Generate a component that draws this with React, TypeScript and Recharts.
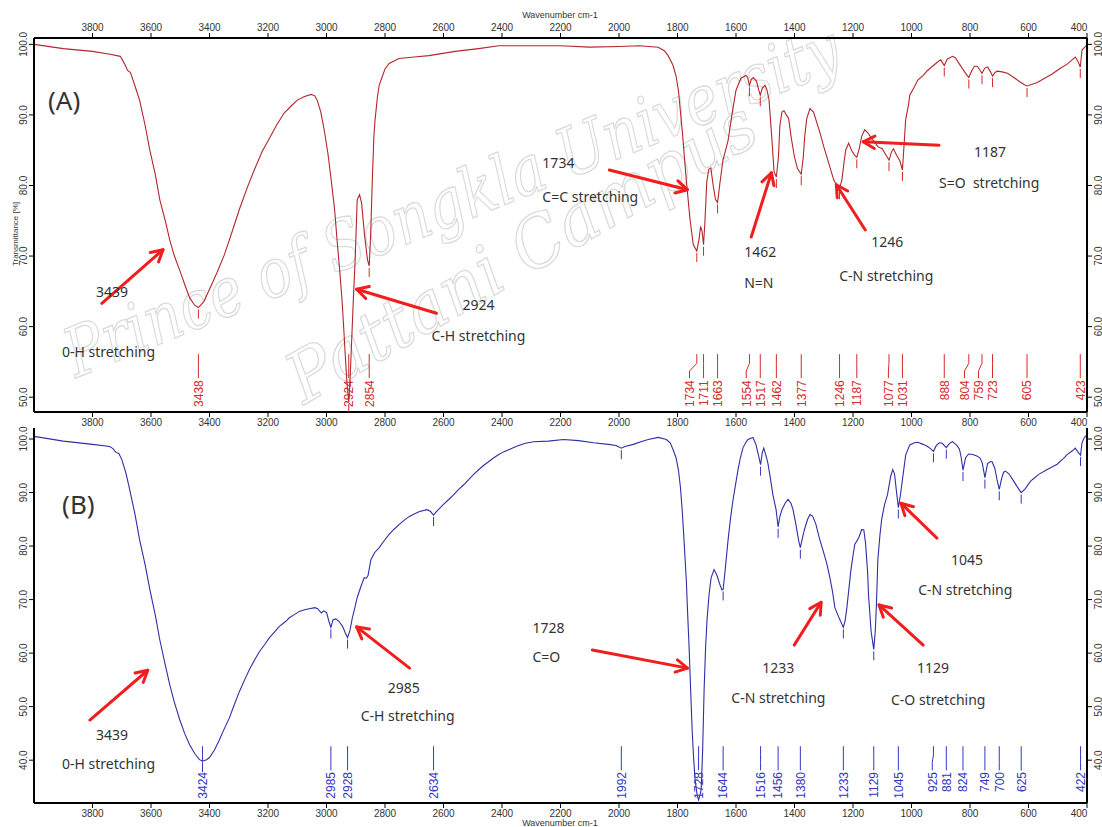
import React from "react";
import { ComposedChart, Line, Scatter, XAxis, YAxis, ReferenceLine } from "recharts";

// ---------- axis ticks ----------
const X_TICKS = [3800, 3600, 3400, 3200, 3000, 2800, 2600, 2400, 2200, 2000, 1800, 1600, 1400, 1200, 1000, 800, 600, 400];
const Y_TICKS_A = [50, 60, 70, 80, 90, 100];
const Y_TICKS_B = [40, 50, 60, 70, 80, 90, 100];

// ---------- spectrum (A) : [wavenumber, transmittance %] ----------
const SPECTRUM_A: [number, number][] = [
  [4000, 100], [3900, 99.4], [3800, 99.0], [3740, 98.6], [3705, 98.3], [3690, 97.2], [3680, 96.3], [3670, 96.0],
  [3650, 93.5], [3639, 92.1], [3620, 88.5], [3604, 85], [3585, 81.5], [3570, 78], [3550, 74.8], [3536, 72.3],
  [3520, 70.0], [3502, 68], [3485, 66], [3468, 64.1], [3450, 63.0], [3438, 62.7], [3420, 63.5], [3400, 65.3],
  [3375, 67.6], [3349, 70.2], [3320, 73.8], [3298, 76.6], [3270, 79.8], [3247, 82.2], [3220, 84.8], [3195, 86.7],
  [3170, 88.6], [3144, 90.3], [3120, 91.3], [3100, 92.1], [3075, 92.6], [3052, 92.9], [3040, 92.7], [3032, 92.1],
  [3020, 90.5], [3008, 87.9], [2995, 84.5], [2984, 80.8], [2972, 76.5], [2964, 72.3], [2955, 68], [2947, 63.8],
  [2940, 59], [2936, 56], [2930, 52], [2924, 49.3], [2919, 53], [2914, 58], [2908, 64], [2902, 69.5], [2895, 78.0],
  [2887, 78.7], [2880, 77.5], [2870, 73], [2860, 69.5], [2854, 68.6], [2849, 73], [2844, 80], [2838, 87],
  [2834, 89.3], [2826, 92.5], [2820, 94.2], [2800, 96.5], [2786, 97.3], [2752, 98.0], [2700, 98.2], [2650, 98.4],
  [2560, 99.0], [2480, 99.4], [2411, 99.8], [2300, 99.8], [2200, 99.8], [2100, 99.6], [2000, 99.7], [1930, 99.8],
  [1866, 99.6], [1845, 99.1], [1832, 98.4], [1815, 97.0], [1805, 95.5], [1797, 93.5], [1784, 87.9], [1770, 80.8],
  [1757, 75.1], [1746, 71.6], [1734, 70.7], [1726, 72.5], [1721, 74.2], [1716, 73.5], [1711, 71.6], [1706, 75],
  [1700, 80.5], [1693, 82.3], [1686, 82.5], [1678, 80], [1670, 78], [1663, 77.6], [1656, 80], [1645, 83.5],
  [1627, 86.4], [1612, 90.5], [1600, 93.5], [1583, 95.2], [1566, 95.6], [1560, 95.3], [1554, 94.2], [1548, 95.0],
  [1541, 95.3], [1530, 94.8], [1524, 93.8], [1517, 92.8], [1510, 93.8], [1501, 94.2], [1494, 93.5], [1487, 92.1],
  [1477, 86.4], [1470, 82], [1462, 81.2], [1455, 84], [1450, 88.5], [1443, 90.4], [1436, 90.6], [1428, 90.0],
  [1420, 89.5], [1412, 87], [1400, 84], [1390, 82.4], [1377, 81.6], [1370, 84], [1365, 87], [1358, 89.5],
  [1347, 90.9], [1335, 90.4], [1320, 88.4], [1313, 87.5], [1300, 85.5], [1286, 83.6], [1266, 80.8], [1253, 79.8],
  [1246, 79.6], [1238, 80.8], [1230, 83.5], [1225, 85.0], [1215, 86.0], [1205, 85.0], [1195, 84.3], [1187, 84.0],
  [1180, 85.0], [1170, 87.0], [1160, 87.9], [1150, 87.5], [1133, 86.5], [1115, 85.5], [1100, 85.2], [1090, 84.5],
  [1077, 83.6], [1068, 84.8], [1062, 85.2], [1050, 84.2], [1040, 83.5], [1031, 82.2], [1025, 86], [1020, 89.3],
  [1010, 91.5], [1006, 92.8], [990, 94], [979, 94.9], [960, 95.6], [945, 96.3], [925, 97], [911, 97.5], [900, 97.8],
  [888, 97.0], [878, 97.9], [860, 98.3], [850, 98.1], [836, 97.2], [820, 96.2], [810, 95.6], [804, 95.3], [795, 96.2],
  [785, 96.9], [775, 96.9], [765, 96.3], [759, 95.9], [750, 96.6], [740, 96.8], [730, 96.1], [723, 95.5], [715, 96.0],
  [707, 96.2], [690, 96.1], [672, 95.9], [650, 95.3], [630, 94.7], [615, 94.3], [605, 94.1], [590, 94.3], [570, 94.6],
  [545, 95.2], [519, 95.8], [495, 96.5], [468, 97.2], [451, 97.8], [440, 98.2], [430, 97.5], [423, 96.8], [417, 99.2],
  [410, 99.5], [400, 99.9],
];

// ---------- spectrum (B) ----------
const SPECTRUM_B: [number, number][] = [
  [4000, 100.5], [3900, 99.6], [3800, 99.0], [3741, 98.6], [3730, 98.2], [3720, 97.5], [3710, 97.3], [3700, 96.2],
  [3685, 93.5], [3673, 90.6], [3655, 86], [3639, 81.2], [3620, 76.5], [3604, 71.9], [3585, 67], [3570, 62.5],
  [3552, 58], [3536, 54.1], [3520, 50.8], [3502, 47.6], [3485, 45], [3468, 42.9], [3450, 41.2], [3434, 40.1],
  [3424, 39.8], [3410, 40.1], [3400, 40.5], [3383, 41.9], [3366, 43.8], [3350, 45.8], [3332, 47.9], [3315, 50.4],
  [3298, 52.8], [3280, 55], [3264, 56.9], [3245, 58.8], [3229, 60.3], [3210, 61.7], [3195, 62.9], [3175, 64.1],
  [3161, 65], [3140, 65.9], [3127, 66.6], [3110, 67.2], [3093, 67.8], [3075, 68.1], [3059, 68.3], [3040, 68.5],
  [3030, 68.3], [3018, 67.5], [3010, 67.9], [3000, 67.6], [2992, 66], [2985, 64.8], [2978, 66.2], [2968, 66.4],
  [2957, 65.9], [2945, 65], [2936, 63.8], [2928, 62.9], [2920, 64.2], [2912, 66.5], [2903, 68.5], [2895, 70.4],
  [2882, 72.5], [2871, 74.1], [2864, 74.0], [2858, 74.5], [2848, 77.5], [2835, 78.8], [2820, 79.7], [2803, 81],
  [2786, 82.2], [2770, 83.1], [2752, 84], [2735, 84.8], [2718, 85.5], [2700, 86], [2684, 86.4], [2657, 86.8],
  [2645, 86.5], [2634, 85.8], [2625, 86.4], [2616, 86.9], [2600, 87.8], [2582, 88.7], [2565, 89.6], [2548, 90.6],
  [2530, 91.5], [2514, 92.4], [2497, 93.4], [2479, 94.3], [2462, 95.1], [2445, 95.8], [2428, 96.5], [2411, 97.1],
  [2395, 97.6], [2377, 98], [2360, 98.4], [2343, 98.8], [2320, 99.2], [2292, 99.5], [2241, 99.6], [2190, 99.9],
  [2138, 99.7], [2087, 99.3], [2036, 99.0], [2010, 98.8], [2000, 98.5], [1992, 98.3], [1980, 98.6], [1951, 99.0],
  [1920, 99.6], [1900, 99.9], [1866, 100.3], [1838, 99.9], [1825, 99.3], [1815, 98], [1805, 96.5], [1797, 94.3],
  [1790, 91], [1784, 86.8], [1777, 80.5], [1770, 73.7], [1765, 67], [1760, 60.6], [1755, 53], [1750, 45.7],
  [1745, 40.5], [1740, 36.4], [1733, 33.5], [1728, 32.6], [1723, 33.5], [1719, 34.5], [1714, 42], [1709, 53.2],
  [1704, 61], [1699, 66.3], [1692, 71], [1685, 74.1], [1675, 75.6], [1665, 74.5], [1655, 72.8], [1648, 71.8],
  [1644, 71.9], [1638, 75], [1627, 81.2], [1618, 85.5], [1610, 88.7], [1600, 92], [1593, 94.3], [1585, 96.5],
  [1576, 98.4], [1565, 99.5], [1559, 99.9], [1542, 100.3], [1532, 99.0], [1524, 97.2], [1516, 95.2], [1510, 97.5],
  [1505, 98.3], [1498, 97.0], [1491, 95.5], [1482, 92.5], [1474, 89.6], [1463, 86.8], [1456, 83.6], [1450, 85.5],
  [1443, 86.8], [1432, 88], [1422, 88.7], [1412, 88], [1405, 86.8], [1395, 84], [1385, 80.8], [1380, 79.7],
  [1373, 81.5], [1366, 83.1], [1355, 85], [1347, 85.9], [1338, 85.6], [1327, 84.1], [1315, 81.5], [1303, 79.3],
  [1290, 76.8], [1279, 74.1], [1270, 71.5], [1262, 68.5], [1247, 66.5], [1233, 64.8], [1227, 66], [1221, 68.5],
  [1214, 72], [1207, 75.6], [1200, 78.2], [1194, 80.3], [1180, 81.6], [1170, 83.1], [1163, 83.0], [1157, 80.5],
  [1150, 75], [1147, 71], [1138, 64], [1129, 60.7], [1124, 64], [1120, 69], [1115, 77.5], [1108, 82], [1102, 85],
  [1092, 87.8], [1082, 89.6], [1071, 93.1], [1064, 94.3], [1058, 93.5], [1052, 90.5], [1045, 87.2], [1038, 89.5],
  [1031, 92.4], [1020, 97], [1006, 98.9], [990, 99.3], [979, 99.4], [960, 99.0], [945, 98.6], [935, 98.2],
  [925, 97.7], [915, 98.8], [905, 99.3], [895, 99.2], [881, 98.4], [870, 99.2], [860, 99.5], [845, 98.8],
  [836, 98.1], [830, 96.5], [824, 94.2], [815, 96.5], [805, 97.2], [790, 97.1], [775, 96.8], [765, 96.4],
  [758, 95.5], [749, 92.8], [740, 95.4], [730, 95.8], [724, 95.7], [715, 94.5], [708, 92.5], [700, 90.6],
  [692, 92.6], [685, 93.8], [679, 94.0], [667, 93.5], [655, 92.5], [640, 91.2], [625, 90], [610, 90.8],
  [595, 92.0], [587, 92.4], [565, 93.4], [536, 94.3], [502, 95.3], [480, 96.4], [468, 97.1], [450, 97.8],
  [440, 98.3], [430, 97.5], [422, 97.0], [417, 99.3], [410, 100.2], [400, 100.8],
];

// ---------- peak picks ----------
const PEAKS_A = [3438, 2924, 2854, 1734, 1711, 1663, 1554, 1517, 1462, 1377, 1246, 1187, 1077, 1031, 888, 804, 759, 723, 605, 423];
const PEAKS_B = [3424, 2985, 2928, 2634, 1992, 1728, 1644, 1516, 1456, 1380, 1233, 1129, 1045, 925, 881, 824, 749, 700, 625, 422];

// ---------- annotations: anchor in (wavenumber, %T) ----------
const TAG_A = [{ w: 3952, t: 90.7, text: "(A)" }];
const TAG_B = [{ w: 3904, t: 86.0, text: "(B)" }];

const NOTES_A = [
  { w: 3788, t: 64.2, text: "3439" },
  { w: 3904, t: 55.7, text: "0-H stretching" },
  { w: 2535, t: 62.3, text: "2924" },
  { w: 2641, t: 57.9, text: "C-H stretching" },
  { w: 2262, t: 82.5, text: "1734" },
  { w: 2262, t: 77.7, text: "C=C stretching" },
  { w: 1572, t: 69.9, text: "1462" },
  { w: 1572, t: 65.5, text: "N=N" },
  { w: 1138, t: 71.3, text: "1246" },
  { w: 1247, t: 66.5, text: "C-N stretching" },
  { w: 786, t: 84.0, text: "1187" },
  { w: 906, t: 79.6, text: "S=O  stretching" },
];
const NOTES_B = [
  { w: 3788, t: 43.7, text: "3439" },
  { w: 3904, t: 38.3, text: "0-H stretching" },
  { w: 2791, t: 52.5, text: "2985" },
  { w: 2883, t: 47.3, text: "C-H stretching" },
  { w: 2296, t: 63.7, text: "1728" },
  { w: 2296, t: 58.3, text: "C=O" },
  { w: 1510, t: 56.3, text: "1233" },
  { w: 1616, t: 50.7, text: "C-N stretching" },
  { w: 981, t: 56.3, text: "1129" },
  { w: 1070, t: 50.3, text: "C-O stretching" },
  { w: 865, t: 76.4, text: "1045" },
  { w: 977, t: 70.8, text: "C-N stretching" },
];

// arrows: [tail w, tail %T, head w, head %T]
const ARROWS_A: [number, number, number, number][] = [
  [3768, 63.3, 3559, 70.9],
  [2624, 61.9, 2897, 65.3],
  [2033, 82.2, 1766, 79.4],
  [1548, 72.7, 1479, 81.8],
  [1158, 73.7, 1257, 80.1],
  [906, 85.7, 1165, 86.2],
];
const ARROWS_B: [number, number, number, number][] = [
  [3809, 47.5, 3611, 56.8],
  [2716, 57.2, 2897, 64.9],
  [2091, 60.6, 1766, 57.2],
  [1401, 61.5, 1309, 69.5],
  [960, 61.5, 1111, 69.0],
  [913, 81.5, 1036, 88.0],
];

// ---------- helpers ----------
const LABEL_GAP = 48; // minimal spacing of peak labels, in cm-1

const toPoints = (s: [number, number][]) => s.map(([w, t]) => ({ w, t }));

function valueAt(s: [number, number][], w: number): number {
  for (let i = 0; i < s.length - 1; i++) {
    const [w1, t1] = s[i];
    const [w2, t2] = s[i + 1];
    if ((w <= w1 && w >= w2) || (w >= w1 && w <= w2)) {
      if (w1 === w2) return t1;
      return t1 + ((w - w1) * (t2 - t1)) / (w2 - w1);
    }
  }
  return s[s.length - 1][1];
}

function labelPositions(peaks: number[]) {
  const sorted = [...peaks].sort((a, b) => a - b);
  const pos = new Map<number, number>();
  let prev = -Infinity;
  for (const p of sorted) {
    const v = Math.max(p, prev + LABEL_GAP);
    pos.set(p, v);
    prev = v;
  }
  return pos;
}

function leaderData(peaks: number[], levels: number[]) {
  const pos = labelPositions(peaks);
  const out: { w: number; t: number | null }[] = [];
  peaks.forEach((p) => {
    const lp = pos.get(p) as number;
    out.push({ w: p, t: levels[0] });
    out.push({ w: p, t: levels[1] });
    out.push({ w: lp, t: levels[2] });
    out.push({ w: lp, t: levels[3] });
    out.push({ w: lp, t: null });
  });
  return out;
}

const TICK_FONT = "'Liberation Sans', Arial, sans-serif";
const NOTE_FONT = "'Noto Sans', 'Open Sans', sans-serif";

const TopTick = (props: any) => {
  const { x, y, payload } = props;
  const dx = payload.value === 400 ? -8 : 0;
  return (
    <text x={x + dx} y={y} textAnchor="middle" fontSize={10} fill="#333" fontFamily={TICK_FONT}>
      {payload.value}
    </text>
  );
};
const BottomTick = (props: any) => {
  const { x, y, payload } = props;
  const dx = payload.value === 400 ? -8 : 0;
  return (
    <text x={x + dx} y={y + 7} textAnchor="middle" fontSize={10} fill="#333" fontFamily={TICK_FONT}>
      {payload.value}
    </text>
  );
};
const LeftTick = (props: any) => {
  const { x, y, payload } = props;
  return (
    <text transform={`translate(${x},${y}) rotate(-90)`} textAnchor="middle" fontSize={10} fill="#333" fontFamily={TICK_FONT}>
      {Number(payload.value).toFixed(1)}
    </text>
  );
};
const RightTick = (props: any) => {
  const { x, y, payload } = props;
  return (
    <text transform={`translate(${x + 8},${y}) rotate(-90)`} textAnchor="middle" fontSize={10} fill="#333" fontFamily={TICK_FONT}>
      {Number(payload.value).toFixed(1)}
    </text>
  );
};

const Arrow = (props: any) => {
  const { x1, y1, x2, y2 } = props;
  if ([x1, y1, x2, y2].some((v) => typeof v !== "number" || isNaN(v))) return null;
  const a = Math.atan2(y2 - y1, x2 - x1);
  const L = 13;
  const s = 0.5;
  const p1 = `${x2 - L * Math.cos(a - s)},${y2 - L * Math.sin(a - s)}`;
  const p2 = `${x2 - L * Math.cos(a + s)},${y2 - L * Math.sin(a + s)}`;
  return (
    <g>
      <line x1={x1} y1={y1} x2={x2} y2={y2} stroke="#f21d1d" strokeWidth={3} strokeLinecap="round" />
      <polyline points={`${p1} ${x2},${y2} ${p2}`} fill="none" stroke="#f21d1d" strokeWidth={3} strokeLinecap="round" strokeLinejoin="round" />
    </g>
  );
};

const noteShape = (size: number) => (props: any) => {
  const { cx, cy, payload } = props;
  return (
    <text x={cx} y={cy} fontSize={size} fill="#333" fontFamily={NOTE_FONT} style={{ whiteSpace: "pre" }}>
      {payload.text}
    </text>
  );
};

const peakLabelShape = (color: string) => (props: any) => {
  const { cx, cy, payload } = props;
  return (
    <text transform={`translate(${cx},${cy}) rotate(-90)`} dy="0.36em" textAnchor="end" fontSize={12} fill={color} fontFamily={TICK_FONT}>
      {payload.text}
    </text>
  );
};

const curveTickShape = (color: string) => (props: any) => {
  const { cx, cy } = props;
  return <line x1={cx} x2={cx} y1={cy + 2} y2={cy + 11} stroke={color} strokeWidth={1} />;
};

type PanelProps = {
  spectrum: [number, number][];
  peaks: number[];
  notes: { w: number; t: number; text: string }[];
  tag: { w: number; t: number; text: string }[];
  arrows: [number, number, number, number][];
  color: string;
  labelColor: string;
  yDomain: [number, number];
  yTicks: number[];
  height: number;
  marginTop: number;
  topAxisHeight: number;
  showTopTicks: boolean;
  bottomAxisHeight: number;
  leaderLevels: number[];
  labelLevel: number;
};

function Panel(p: PanelProps) {
  const pts = toPoints(p.spectrum);
  const leaders = leaderData(p.peaks, p.leaderLevels);
  const pos = labelPositions(p.peaks);
  const labels = p.peaks.map((k) => ({ w: pos.get(k) as number, t: p.labelLevel, text: String(k) }));
  const curveTicks = p.peaks.map((k) => ({ w: k, t: valueAt(p.spectrum, k) }));
  const axisLine = { stroke: "#000", strokeWidth: 2 };
  return (
    <ComposedChart width={1102} height={p.height} margin={{ top: p.marginTop, right: 0, bottom: 0, left: 8 }}>
      <XAxis
        xAxisId="top"
        orientation="top"
        type="number"
        dataKey="w"
        domain={[400, 4000]}
        reversed
        allowDataOverflow
        ticks={X_TICKS}
        interval={0}
        height={p.topAxisHeight}
        tick={p.showTopTicks ? <TopTick /> : false}
        tickLine={p.showTopTicks ? { stroke: "#000" } : false}
        tickSize={5}
        tickMargin={2}
        axisLine={axisLine}
      />
      <XAxis
        xAxisId="bottom"
        orientation="bottom"
        type="number"
        dataKey="w"
        domain={[400, 4000]}
        reversed
        allowDataOverflow
        ticks={X_TICKS}
        interval={0}
        height={p.bottomAxisHeight}
        tick={<BottomTick />}
        tickLine={{ stroke: "#000" }}
        tickSize={5}
        tickMargin={2}
        axisLine={axisLine}
      />
      <YAxis
        yAxisId="left"
        type="number"
        dataKey="t"
        domain={p.yDomain}
        allowDataOverflow
        ticks={p.yTicks}
        interval={0}
        width={26}
        tick={<LeftTick />}
        tickLine={{ stroke: "#000" }}
        tickSize={5}
        tickMargin={2}
        axisLine={axisLine}
      />
      <YAxis
        yAxisId="right"
        orientation="right"
        type="number"
        dataKey="t"
        domain={p.yDomain}
        allowDataOverflow
        ticks={p.yTicks}
        interval={0}
        width={15}
        tick={<RightTick />}
        tickLine={{ stroke: "#000" }}
        tickSize={5}
        tickMargin={2}
        axisLine={axisLine}
      />
      <Line
        xAxisId="bottom"
        yAxisId="left"
        data={pts}
        dataKey="t"
        type="linear"
        stroke={p.color}
        strokeWidth={1.1}
        dot={false}
        activeDot={false}
        isAnimationActive={false}
      />
      <Line
        xAxisId="bottom"
        yAxisId="left"
        data={leaders}
        dataKey="t"
        type="linear"
        stroke={p.labelColor}
        strokeWidth={1}
        dot={false}
        activeDot={false}
        connectNulls={false}
        isAnimationActive={false}
      />
      <Scatter xAxisId="bottom" yAxisId="left" data={curveTicks} dataKey="t" shape={curveTickShape(p.labelColor)} isAnimationActive={false} />
      <Scatter xAxisId="bottom" yAxisId="left" data={labels} dataKey="t" shape={peakLabelShape(p.labelColor)} isAnimationActive={false} />
      <Scatter xAxisId="bottom" yAxisId="left" data={p.notes} dataKey="t" shape={noteShape(14)} isAnimationActive={false} />
      <Scatter xAxisId="bottom" yAxisId="left" data={p.tag} dataKey="t" shape={noteShape(26)} isAnimationActive={false} />
      {p.arrows.map((a, i) => (
        <ReferenceLine
          key={i}
          xAxisId="bottom"
          yAxisId="left"
          segment={[{ x: a[0], y: a[1] }, { x: a[2], y: a[3] }]}
          shape={Arrow}
          ifOverflow="visible"
        />
      ))}
    </ComposedChart>
  );
}

export default function App() {
  return (
    <div style={{ position: "absolute", left: 0, top: 0, width: 1102, height: 827, background: "#fff", overflow: "hidden" }}>
      <svg width={1102} height={827} style={{ position: "absolute", left: 0, top: 0 }}>
        <g fill="none" stroke="#dadada" strokeWidth={1.3} fontFamily="'DejaVu Serif', serif" fontStyle="italic">
          <text transform="translate(76,378) rotate(-22)" fontSize={68} textLength={830} lengthAdjust="spacingAndGlyphs">
            Prince of Songkla University
          </text>
          <text transform="translate(304,405) rotate(-30)" fontSize={70} textLength={530} lengthAdjust="spacingAndGlyphs">
            Pattani Campus
          </text>
        </g>
        <text x={560} y={18} textAnchor="middle" fontSize={9} fill="#333" fontFamily={TICK_FONT}>
          Wavenumber cm-1
        </text>
        <text x={560} y={826} textAnchor="middle" fontSize={9} fill="#333" fontFamily={TICK_FONT}>
          Wavenumber cm-1
        </text>
        <text transform="translate(18,234) rotate(-90)" textAnchor="middle" fontSize={8} fill="#333" fontFamily={TICK_FONT}>
          Transmittance [%]
        </text>
      </svg>
      <div style={{ position: "absolute", left: 0, top: 0 }}>
        <Panel
          spectrum={SPECTRUM_A}
          peaks={PEAKS_A}
          notes={NOTES_A}
          tag={TAG_A}
          arrows={ARROWS_A}
          color="#b3262c"
          labelColor="#d42a2a"
          yDomain={[47.9, 100.9]}
          yTicks={Y_TICKS_A}
          height={440}
          marginTop={10}
          topAxisHeight={28}
          showTopTicks={true}
          bottomAxisHeight={28}
          leaderLevels={[56.1, 54.8, 53.7, 52.7]}
          labelLevel={52.4}
        />
      </div>
      <div style={{ position: "absolute", left: 0, top: 413 }}>
        <Panel
          spectrum={SPECTRUM_B}
          peaks={PEAKS_B}
          notes={NOTES_B}
          tag={TAG_B}
          arrows={ARROWS_B}
          color="#2f2fa5"
          labelColor="#3535c4"
          yDomain={[32.0, 102.06]}
          yTicks={Y_TICKS_B}
          height={414}
          marginTop={15}
          topAxisHeight={0}
          showTopTicks={false}
          bottomAxisHeight={24}
          leaderLevels={[42.6, 41.0, 39.6, 38.1]}
          labelLevel={37.8}
        />
      </div>
    </div>
  );
}
